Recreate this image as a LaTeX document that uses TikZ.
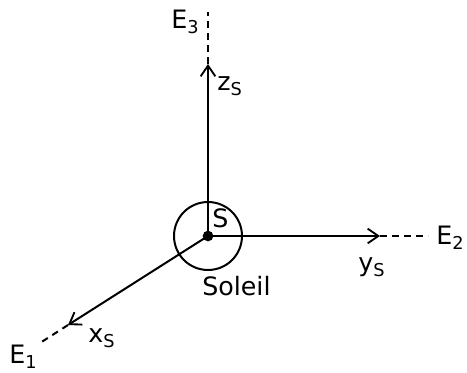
\documentclass[tikz,border=0pt]{standalone}
\usepackage{fontspec}
\setmainfont{DejaVu Sans}
\usetikzlibrary{arrows.meta,positioning}

\begin{document}
\begin{tikzpicture}[x=0.75pt,y=-0.75pt,
    axis/.style={line width=1.5pt,-{Straight Barb[length=8pt,width=11pt,line width=1.4pt]}},
    ext/.style={line width=1.5pt,dash pattern=on 5pt off 4pt},
    lbl/.style={font=\fontsize{19}{21}\selectfont, inner sep=0pt, anchor=base west}]
    \useasboundingbox (0,0) rectangle (467,372);
    % Sun and its frame
    \node[draw, circle, line width=1.5pt, minimum size=51pt, inner sep=0pt] (soleil) at (208,236) {};
    \node[circle, fill, inner sep=0pt, minimum size=8pt] (centre) at (soleil.center) {};
    \coordinate (zarr) at (208,64);
    \coordinate (zend) at (208,12);
    \coordinate (yarr) at (380,236);
    \coordinate (yend) at (428,236);
    \coordinate (xarr) at (68,325);
    \coordinate (xend) at (40,343);
    \draw[axis] (centre.center) -- (zarr);
    \draw[axis] (centre.center) -- (yarr);
    \draw[axis] (centre.center) -- (xarr);
    \draw[ext] (zarr) -- (zend);
    \draw[ext] (yarr) -- (yend);
    \draw[ext] (xarr) -- (xend);
    % Labels
    \node[lbl] (lS) at (212,227) {S};
    \node[lbl] (lsoleil) at (202,295) {Soleil};
    \node[lbl] (lz) at (217,90) {z\textsubscript{S}};
    \node[lbl] (ly) at (358,271) {y\textsubscript{S}};
    \node[lbl] (lx) at (88,342) {x\textsubscript{S}};
    \node[lbl] (le3) at (171,28) {E\textsubscript{3}};
    \node[lbl] (le2) at (436,244) {E\textsubscript{2}};
    \node[lbl] (le1) at (9,363) {E\textsubscript{1}};
\end{tikzpicture}
\end{document}
